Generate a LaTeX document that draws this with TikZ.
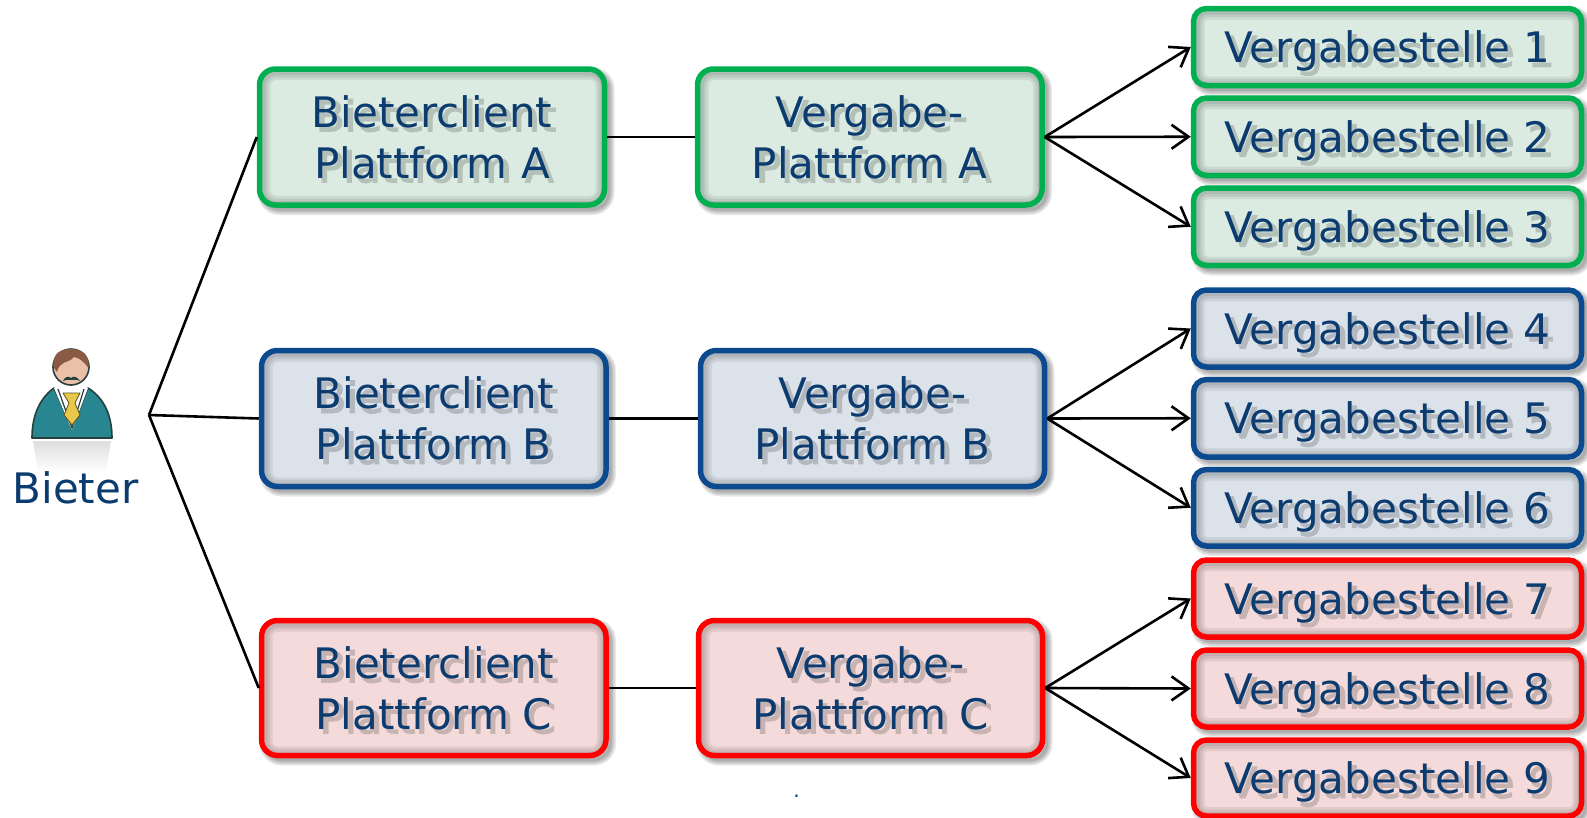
\documentclass[tikz,border=0pt]{standalone}
\usepackage{fontspec}
\setmainfont{DejaVu Sans}
\newfontfamily\shadowfont[FakeBold=3]{DejaVu Sans}
\usetikzlibrary{arrows.meta}
\definecolor{txt}{HTML}{0B3B6F}
\definecolor{gfill}{HTML}{DBEBE1}\definecolor{gline}{HTML}{00B050}
\definecolor{bfill}{HTML}{DCE2EA}\definecolor{bline}{HTML}{0B4A8F}
\definecolor{rfill}{HTML}{F4DADA}\definecolor{rline}{HTML}{FF0000}
\definecolor{teal1}{HTML}{27868F}\definecolor{hair}{HTML}{8A5A44}\definecolor{skin}{HTML}{EBC0A8}\definecolor{dk}{HTML}{25403F}\definecolor{tie}{HTML}{E8C84A}
\newcommand\shl[1]{\leavevmode
 \rlap{\smash{\kern4pt\lower4pt\hbox{\shadowfont\color{sb}#1}}}%
 #1}
\tikzset{
 x=1pt,y=-1pt,
 tbox/.style={draw=curline,line width=5.5pt,text=txt,inner sep=0pt,
   font=\fontsize{42}{51}\selectfont},
 con/.style={line width=2.6pt,black},
 arr/.style={line width=2.6pt,black,-{Straight Barb[length=17pt,width=24pt,line width=2.6pt]}},
 lbl/.style={text=txt,inner sep=0pt,font=\fontsize{42}{51}\selectfont}
}
% name x1 y1 x2 y2 radius family text
\newcommand\pbox[8]{%
 \colorlet{curfill}{#7fill}\colorlet{curline}{#7line}%
 \colorlet{sb}{curfill!82!black}%
 \pgfmathsetmacro\cx{(#2+#4)/2}\pgfmathsetmacro\cy{(#3+#5)/2}%
 \pgfmathsetmacro\bw{#4-#2}\pgfmathsetmacro\bh{#5-#3}%
 \foreach \lw in {12,9,6,3}{\draw[black,opacity=.09,fill opacity=.09,line width=\lw pt,rounded corners=#6pt]
   (#2+4,#3+4) rectangle (#4+4,#5+4);}
 \fill[curfill,rounded corners=#6pt] (#2,#3) rectangle (#4,#5);
 \begin{scope}
  \clip[rounded corners=#6pt] (#2,#3) rectangle (#4,#5);
  \foreach \lw in {20,15,10}{\draw[black,opacity=.07,line width=\lw pt,rounded corners=#6pt]
    (#2+1,#3+1) rectangle (#4+1,#5+1);}
 \end{scope}
 \node[tbox,rounded corners=#6pt,minimum width=\bw pt,minimum height=\bh pt] (#1) at (\cx,\cy)
   {\raisebox{0pt}[\dimexpr\height+11pt\relax][\depth]{\begin{tabular}{@{}c@{}}#8\end{tabular}}};
}
\begin{document}
\begin{tikzpicture}
\useasboundingbox (0,0) rectangle (1587,817);
\fill[white] (0,0) rectangle (1587,817);
% boxes
\pbox{ba}{259.5}{69}{604.5}{205}{16}{g}{\shl{Bieterclient}\\\shl{Plattform A}}
\pbox{bb}{261.5}{350.5}{606}{486.5}{16}{b}{\shl{Bieterclient}\\\shl{Plattform B}}
\pbox{bc}{261.5}{620.5}{606}{755.5}{16}{r}{\shl{Bieterclient}\\\shl{Plattform C}}
\pbox{va}{697.5}{69}{1042}{205}{16}{g}{\shl{Vergabe-}\\\shl{Plattform A}}
\pbox{vb}{700.5}{350.5}{1044.5}{486.5}{16}{b}{\shl{Vergabe-}\\\shl{Plattform B}}
\pbox{vc}{698.5}{620.5}{1042.5}{755.5}{16}{r}{\shl{Vergabe-}\\\shl{Plattform C}}
\pbox{s1}{1193.5}{8.5}{1581.5}{85.5}{13}{g}{\shl{Vergabestelle 1}}
\pbox{s2}{1193.5}{98}{1581.5}{175.5}{13}{g}{\shl{Vergabestelle 2}}
\pbox{s3}{1193.5}{188}{1581.5}{265.5}{13}{g}{\shl{Vergabestelle 3}}
\pbox{s4}{1193.5}{290}{1581.5}{367}{13}{b}{\shl{Vergabestelle 4}}
\pbox{s5}{1193.5}{379.5}{1581.5}{457}{13}{b}{\shl{Vergabestelle 5}}
\pbox{s6}{1193.5}{469.5}{1581.5}{546}{13}{b}{\shl{Vergabestelle 6}}
\pbox{s7}{1193.5}{560}{1581.5}{637}{13}{r}{\shl{Vergabestelle 7}}
\pbox{s8}{1193.5}{650}{1581.5}{727}{13}{r}{\shl{Vergabestelle 8}}
\pbox{s9}{1193.5}{740}{1581.5}{816}{13}{r}{\shl{Vergabestelle 9}}
% connectors
\coordinate (hub) at (149,415);
\draw[con] (hub) -- (ba.west);
\draw[con] (hub) -- (bb.west);
\draw[con] (hub) -- (bc.west);
\draw[con] (ba) -- (va);
\draw[con] (bb) -- (vb);
\draw[con] (bc) -- (vc);
\draw[arr] (va.east) -- (s1.west);
\draw[arr] (va.east) -- (s2.west);
\draw[arr] (va.east) -- (s3.west);
\draw[arr] (vb.east) -- (s4.west);
\draw[arr] (vb.east) -- (s5.west);
\draw[arr] (vb.east) -- (s6.west);
\draw[arr] (vc.east) -- (s7.west);
\draw[arr] (vc.east) -- (s8.west);
\draw[arr] (vc.east) -- (s9.west);
% person
\shade[top color=black!13,bottom color=white] (33,441) -- (111,441) -- (106,472) -- (38,472) -- cycle;
\draw[dk,fill=teal1,line width=1.6pt,line join=round]
  (32,438) .. controls (32,415) and (40,398) .. (54,388) -- (72,428) -- (88,388)
  .. controls (104,398) and (112,415) .. (112,438) -- cycle;
\fill[white] (54,388) -- (72,430) -- (88,388) -- (80,384) -- (63,384) -- cycle;
\draw[dk,line width=1.2pt] (58,389) -- (72,428) -- (84,389);
\draw[black!60!tie,fill=tie,line width=.8pt,line join=round]
  (63,393) -- (80,393) -- (75,403) -- (80,415) -- (72,425) -- (64,415) -- (69,403) -- cycle;
\draw[dk,fill=skin,line width=1.6pt] (71,367) circle[radius=18];
\fill[hair] (53.5,367) .. controls (52,352) and (62,349) .. (71,349)
  .. controls (82,349) and (90,354) .. (88.5,368) .. controls (84,362) and (80,358) .. (74,357)
  .. controls (68,364) and (60,360) .. (57,372) -- cycle;
\fill[dk] (63,381) .. controls (65,376) and (69,376) .. (71,378) .. controls (73,376) and (77,376) .. (80,381)
  .. controls (76,379) and (74,380) .. (71,380) .. controls (68,380) and (66,379) .. (63,381) -- cycle;
\node[lbl,anchor=base] (bieter) at (75.5,503) {Bieter};
\node[text=txt,inner sep=0pt,font=\fontsize{20}{20}\selectfont,anchor=base] (dot) at (796.5,797) {.};
\end{tikzpicture}
\end{document}
